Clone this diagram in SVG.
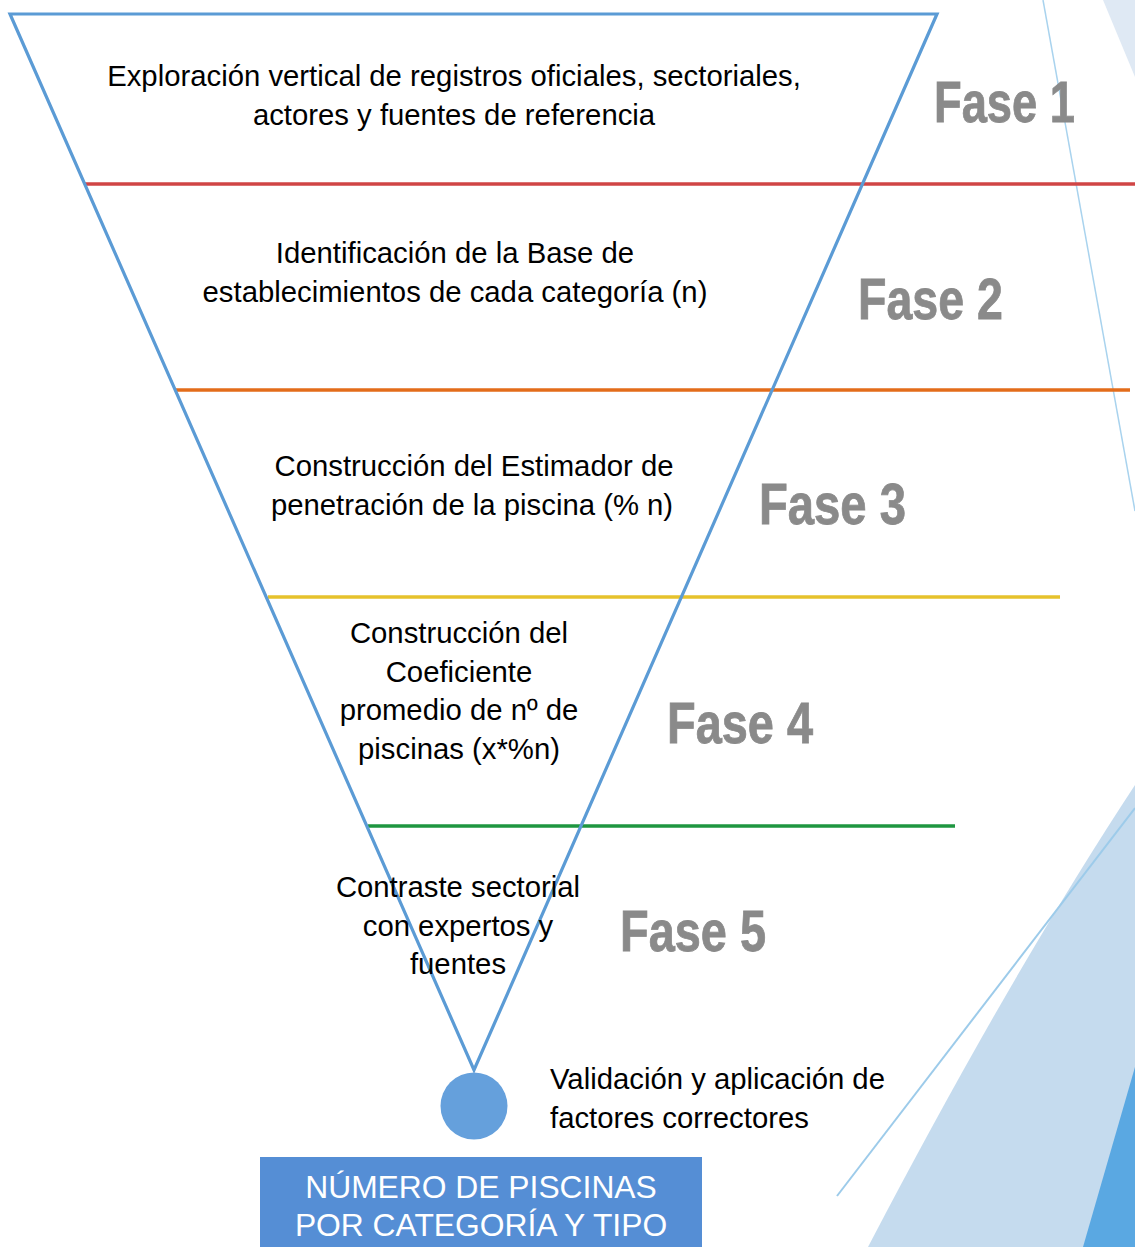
<svg xmlns="http://www.w3.org/2000/svg" width="1135" height="1247" viewBox="0 0 1135 1247">
<style>
.t{font-family:"Liberation Sans",Arial,sans-serif;font-size:29.3px;fill:#000;text-anchor:middle}
.f{font-family:"Liberation Sans",Arial,sans-serif;font-size:58px;font-weight:bold;fill:#8a8a8a;stroke:#8a8a8a;stroke-width:0.8}
.b{font-family:"Liberation Sans",Arial,sans-serif;font-size:31.8px;fill:#fff;text-anchor:middle}
.sep{stroke-width:3.5;fill:none}
</style>
<rect width="1135" height="1247" fill="#fff"/>
<g id="decor">
<polygon points="1103,0 1135,0 1135,77" fill="#dfe9f4"/>
<line x1="1043" y1="0" x2="1135" y2="511" stroke="#a9d3ee" stroke-width="1.5"/>
<path d="M1135,785 Q1010,975 868,1247 L1135,1247 Z" fill="#c5dbee"/>
<line x1="1135" y1="808" x2="837" y2="1196" stroke="#9dcbea" stroke-width="2"/>
<polygon points="1135,1067 1135,1247 1083,1247" fill="#5aa8e2"/>
</g>
<g id="separators">
<line class="sep" x1="84" y1="184" x2="1135" y2="184" stroke="#d04545"/>
<line class="sep" x1="175" y1="390" x2="1130" y2="390" stroke="#e36c1a"/>
<line class="sep" x1="268" y1="597" x2="1060" y2="597" stroke="#e6c22c"/>
<line class="sep" x1="368" y1="826" x2="955" y2="826" stroke="#1e9640"/>
</g>
<g id="funnel">
<polygon points="10,14 937,14 474,1070" fill="none" stroke="#5b9bd5" stroke-width="3.2" stroke-linejoin="miter"/>
</g>
<g id="fase1">
<text class="t" x="454" y="86">Exploración vertical de registros oficiales, sectoriales,</text>
<text class="t" x="454" y="125">actores y fuentes de referencia</text>
<text class="f" x="934" y="122" textLength="141" lengthAdjust="spacingAndGlyphs">Fase 1</text>
</g>
<g id="fase2">
<text class="t" x="455" y="263">Identificación de la Base de</text>
<text class="t" x="455" y="302">establecimientos de cada categoría (n)</text>
<text class="f" x="858" y="319" textLength="145" lengthAdjust="spacingAndGlyphs">Fase 2</text>
</g>
<g id="fase3">
<text class="t" x="474" y="476">Construcción del Estimador de</text>
<text class="t" x="472" y="515">penetración de la piscina (% n)</text>
<text class="f" x="759" y="524" textLength="147" lengthAdjust="spacingAndGlyphs">Fase 3</text>
</g>
<g id="fase4">
<text class="t" x="459" y="643">Construcción del</text>
<text class="t" x="459" y="682">Coeficiente</text>
<text class="t" x="459" y="720">promedio de nº de</text>
<text class="t" x="459" y="759">piscinas (x*%n)</text>
<text class="f" x="667" y="743" textLength="146" lengthAdjust="spacingAndGlyphs">Fase 4</text>
</g>
<g id="fase5">
<text class="t" x="458" y="897">Contraste sectorial</text>
<text class="t" x="458" y="936">con expertos y</text>
<text class="t" x="458" y="974">fuentes</text>
<text class="f" x="620" y="951" textLength="146" lengthAdjust="spacingAndGlyphs">Fase 5</text>
</g>
<g id="validacion">
<circle cx="474" cy="1106" r="33.5" fill="#65a0dc"/>
<text class="t" x="550" y="1089" style="text-anchor:start">Validación y aplicación de</text>
<text class="t" x="550" y="1128" style="text-anchor:start">factores correctores</text>
</g>
<g id="resultado">
<rect x="260" y="1157" width="442" height="90" fill="#558ed5"/>
<text class="b" x="481" y="1198">NÚMERO DE PISCINAS</text>
<text class="b" x="481" y="1236">POR CATEGORÍA Y TIPO</text>
</g>
</svg>
